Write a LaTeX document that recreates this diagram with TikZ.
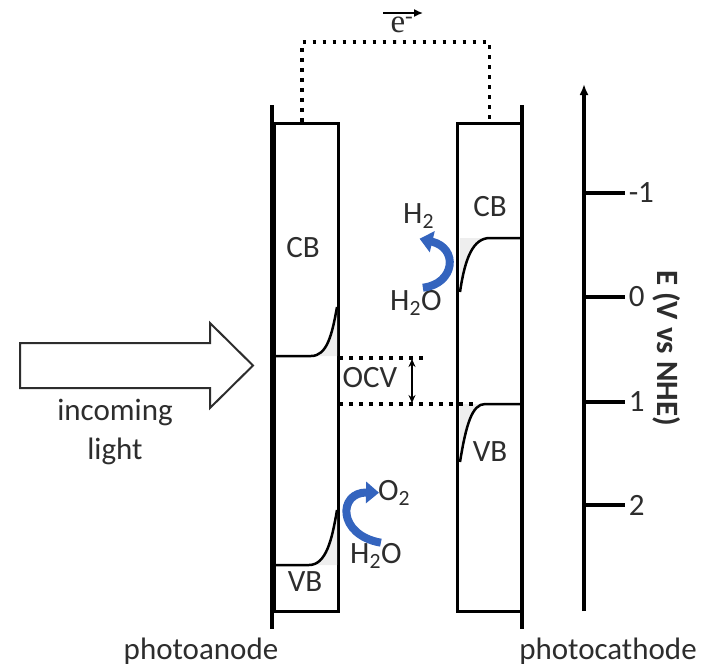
\documentclass[tikz,border=0pt]{standalone}
\usepackage{fontspec}
\setmainfont{Carlito}
\newfontfamily\elecfont{Liberation Serif}
\usetikzlibrary{arrows.meta}
\definecolor{redoxblue}{RGB}{52,100,190}
\definecolor{txt}{RGB}{45,45,45}

\begin{document}
\begin{tikzpicture}[x=1pt, y=-1pt, every node/.style={font=\fontsize{31}{39}\selectfont, text=txt, inner sep=1pt},
	cell/.style={draw, line width=3pt, minimum width=64pt, minimum height=488pt, inner sep=0pt},
	electrode/.style={line width=4.5pt},
	band/.style={line width=2.5pt},
	bandfill/.style={fill=gray!13, draw=none},
	wire/.style={line width=3.5pt, dash pattern=on 3.5pt off 6.5pt},
	redox/.style={redoxblue, line width=8pt, -{Triangle[length=13pt, width=21pt]}},
	axis/.style={line width=3.5pt}]
	\useasboundingbox (0,0) rectangle (703,667);
	\node[cell] (anode) at (306.5,367) {};
	\node[cell] (cathode) at (489.5,367) {};
	\draw[electrode] (272,105) -- (272,629);
	\draw[electrode] (522,105) -- (522,629);
	\coordinate (wtop) at (396,42);
	\draw[wire] ([xshift=-4.5pt]anode.north) |- (wtop) -| (cathode.north);
	\node[font=\fontsize{33}{36}\elecfont] (elec) at (402,25) {e\textsuperscript{-}};
	\coordinate (ea) at (383,13);
	\coordinate (eb) at (423,13);
	\draw[line width=1.5pt, -{Latex[length=9pt, width=8pt]}] (ea) -- (eb);
	\fill[bandfill] (311,356) .. controls (327,356) and (332,335) .. (337,307) -- (337,356) -- cycle;
	\draw[band] (275,356) -- (311,356) .. controls (327,356) and (332,335) .. (337,307);
	\fill[bandfill] (309,565) .. controls (326,565) and (332,540) .. (337,510) -- (337,565) -- cycle;
	\draw[band] (275,565) -- (309,565) .. controls (326,565) and (332,540) .. (337,510);
	\fill[bandfill] (490,238) .. controls (473,238) and (465,258) .. (460,292) -- (460,238) -- cycle;
	\draw[band] (520,238) -- (490,238) .. controls (473,238) and (465,258) .. (460,292);
	\fill[bandfill] (485,404) .. controls (472,404) and (466,425) .. (460,462) -- (460,404) -- cycle;
	\draw[band] (520,404) -- (485,404) .. controls (472,404) and (466,425) .. (460,462);
	\node (cbL) at (303,248) {CB};
	\node (vbL) at (305,582) {VB};
	\node (cbR) at (490,207) {CB};
	\node (vbR) at (490,452) {VB};
	\draw[wire] (339,358) -- (423,358);
	\draw[wire] (339,404) -- (476,404);
	\node (ocv) at (370,378) {OCV};
	\coordinate (ocvtop) at (412,359);
	\coordinate (ocvbot) at (412,403);
	\draw[line width=2pt, {Stealth[length=8pt, width=7pt]}-{Stealth[length=8pt, width=7pt]}] (ocvtop) -- (ocvbot);
	\node[anchor=base west] (h2) at (402,223) {H\textsubscript{2}};
	\node[anchor=base west] (h2oc) at (389,310) {H\textsubscript{2}O};
	\node[anchor=base west] (o2) at (377,500) {O\textsubscript{2}};
	\node[anchor=base west] (h2oa) at (349,563) {H\textsubscript{2}O};
	\draw[redox] ([xshift=7pt, yshift=1pt]h2oc.north) .. controls (455,284) and (459,248) .. ([xshift=1pt, yshift=-9pt]h2.south);
	\draw[redox] ([xshift=5pt, yshift=-1pt]h2oa.north) .. controls (337,535) and (338,492) .. ([xshift=2pt]o2.west);
	\draw[line width=2pt, draw=txt, fill=white] (20,343) -- (210,343) -- (210,323) -- (253,365.5) -- (210,408) -- (210,388) -- (20,388) -- cycle;
	\node[align=center] (light) at (115,432) {incoming\\light};
	\node[anchor=base] (pa) at (201,659) {photoanode};
	\node[anchor=base] (pc) at (608,659) {photocathode};
	\draw[axis, -{Latex[length=11pt, width=9pt]}] (584,611) -- (584,84);
	\foreach \v/\y in {-1/193, 0/297, 1/402, 2/505}
		\draw[axis] (584,\y) -- (625,\y) node[right, inner sep=2pt] {\v};
	\node[rotate=-90, font=\fontsize{31}{36}\selectfont\bfseries] (elabel) at (667,348) {E (V vs NHE)};
\end{tikzpicture}
\end{document}
